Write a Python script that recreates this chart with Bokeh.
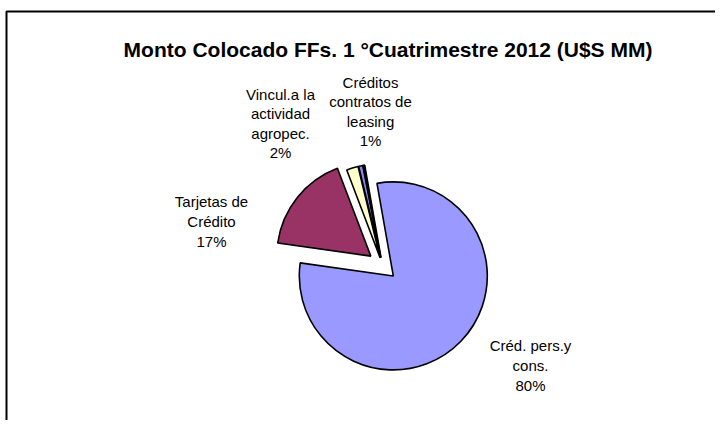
import math
from bokeh.plotting import figure
from bokeh.models import Range1d, BoxAnnotation, ColumnDataSource
from bokeh.core.properties import value
from bokeh.embed import file_html
from bokeh.resources import INLINE

# ---- data ----
categories = ["Créd. pers.y\ncons.", "Tarjetas de\nCrédito", "Vincul.a la\nactividad\nagropec.",
              "Créditos\ncontratos de\nleasing", "Otros"]
shares = [80.0, 17.0, 2.0, 0.7, 0.3]
colors = ["#9999FF", "#993366", "#FFFFCC", "#8A8AF2", "#000080"]
title_text = "Monto Colocado FFs. 1 °Cuatrimestre 2012 (U$S MM)"

# ---- layout (screenshot pixels -> figure units) ----
W, H = 715, 420
def fx(px): return px
def fy(py): return H - py

cx, cy = fx(382), fy(265)
radius = 94
start_deg = 100.0
explode = [15, 15, 8, 8, 8]
label_pos = [(530, 365), (211, 221), (280, 123), (370, 111), None]

total = sum(shares)
starts, ends, xs, ys = [], [], [], []
cum = 0.0
for v, d in zip(shares, explode):
    hi = start_deg - cum * 360 / total
    lo = hi - v * 360 / total
    cum += v
    mid = math.radians((hi + lo) / 2)
    starts.append(math.radians(lo))
    ends.append(math.radians(hi))
    xs.append(cx + d * math.cos(mid))
    ys.append(cy + d * math.sin(mid))

src = ColumnDataSource(dict(x=xs, y=ys, start=starts, end=ends, color=colors))

p = figure(width=W, height=H, output_backend="svg", toolbar_location=None,
           x_range=Range1d(0, W), y_range=Range1d(0, H), min_border=0)
p.axis.visible = False
p.grid.visible = False
p.outline_line_color = None
p.background_fill_color = "white"
p.border_fill_color = "white"

# chart frame (only left and top edges fall inside the picture)
p.add_layout(BoxAnnotation(left=fx(6), top=fy(11), right=W + 40, bottom=-40,
                           fill_color=None, line_color="black", line_width=2,
                           line_alpha=1.0))

p.wedge(x="x", y="y", radius=radius, start_angle="start", end_angle="end",
        fill_color="color", line_color="black", line_width=1.6, source=src)

# labels
lx, ly, lt = [], [], []
for cat, v, pos in zip(categories, shares, label_pos):
    if pos is None:
        continue
    lx.append(fx(pos[0]))
    ly.append(fy(pos[1]))
    lt.append(f"{cat}\n{round(v / total * 100):.0f}%")
p.text(x=lx, y=ly, text=lt, text_align="center", text_baseline="middle",
       text_font=value("Liberation Sans"), text_font_size="15px",
       text_line_height=1.15, text_color="black")

# title
p.text(x=[fx(387.5)], y=[fy(49)], text=[title_text], text_align="center",
       text_baseline="middle", text_font=value("Liberation Sans"),
       text_font_size="21px", text_font_style="bold", text_color="black")

open("out.html", "w").write(file_html(p, INLINE))
